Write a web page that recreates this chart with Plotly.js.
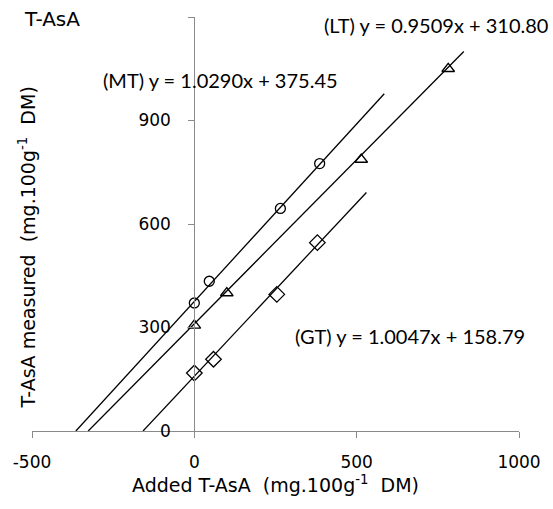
<!DOCTYPE html>
<html>
<head>
<meta charset="utf-8">
<script src="https://cdn.plot.ly/plotly-3.0.1.min.js"></script>
<style>html,body{margin:0;padding:0;background:#fff;}#chart{width:553px;height:509px;}</style>
</head>
<body>
<div id="chart"></div>
<script>
// Data
const mtX = [0, 46, 265, 386];
const mtY = [371, 434, 645, 775];
const ltX = [0, 100, 514, 782];
const ltY = [306, 400, 787, 1050];
const gtX = [0, 59, 254, 379];
const gtY = [168, 208, 396, 546];

// Trendline equations and their drawn x extents
const mtFit = [1.0290, 375.45];
const ltFit = [0.9509, 310.80];
const gtFit = [1.0047, 158.79];
const mtLineX = [-364.9, 585];
const ltLineX = [-326.8, 830];
const gtLineX = [-158.0, 530];

const xTicks = [-500, 0, 500, 1000];
const yTicks = [0, 300, 600, 900, 1200];
const yTickText = ['0', '300', '600', '900', ' '];

function fitY(fit, xs) { return xs.map(x => fit[0] * x + fit[1]); }

const lineStyle = {color: '#000', width: 1.3};
const mk = (sym, size) => ({symbol: sym, size: size, color: '#000', line: {color: '#000', width: 1.3}});

const traces = [
  {x: mtLineX, y: fitY(mtFit, mtLineX), mode: 'lines', line: lineStyle, hoverinfo: 'skip'},
  {x: ltLineX, y: fitY(ltFit, ltLineX), mode: 'lines', line: lineStyle, hoverinfo: 'skip'},
  {x: gtLineX, y: fitY(gtFit, gtLineX), mode: 'lines', line: lineStyle, hoverinfo: 'skip'},
  {x: mtX, y: mtY, mode: 'markers', marker: mk('circle-open', 10), name: 'MT', cliponaxis: false},
  {x: ltX, y: ltY, mode: 'markers', marker: mk('triangle-up-open', 11), name: 'LT', cliponaxis: false},
  {x: gtX, y: gtY, mode: 'markers', marker: mk('diamond-open', 12), name: 'GT', cliponaxis: false}
];

const tickFont = {family: 'DejaVu Sans, sans-serif', size: 17, color: '#000'};
const titleFont = {family: 'DejaVu Sans, sans-serif', size: 19, color: '#000'};
const eqFont = {family: 'Lato, sans-serif', size: 20, color: '#000'};

const layout = {
  width: 553, height: 509,
  margin: {l: 32, r: 34, t: 17, b: 78},
  paper_bgcolor: '#fff', plot_bgcolor: '#fff',
  showlegend: false,
  xaxis: {
    range: [-500, 1000], tickvals: xTicks, ticktext: xTicks.map(String),
    showgrid: false, zeroline: false, showline: true, linecolor: '#8a8a8a', linewidth: 1,
    ticks: 'outside', ticklen: 6, tickcolor: '#8a8a8a', tickfont: tickFont,
    ticklabelstandoff: 10,
    title: {text: 'Added T-AsA  (mg.100g<sup>-1</sup>  DM)', font: titleFont, standoff: 2}
  },
  yaxis: {
    range: [0, 1200], tickvals: yTicks, ticktext: yTickText,
    anchor: 'free', position: 1/3,
    showgrid: false, zeroline: false, showline: true, linecolor: '#8a8a8a', linewidth: 1,
    ticks: 'outside', ticklen: 6, tickcolor: '#8a8a8a', tickfont: tickFont,
    ticklabelstandoff: 14
  },
  annotations: [
    {text: 'T-AsA measured  (mg.100g<sup>-1</sup>  DM)', xref: 'paper', yref: 'paper',
     x: -0.0103, y: 0.443, textangle: -90, showarrow: false, font: titleFont, xanchor: 'center', yanchor: 'middle'},
    {text: 'T-AsA', xref: 'paper', yref: 'paper', x: 0.042, y: 0.9957, showarrow: false, font: {family: 'DejaVu Sans, sans-serif', size: 20, color: '#000'}, xanchor: 'center', yanchor: 'middle'},
    {text: '(MT) y = 1.0290x + 375.45', xref: 'paper', yref: 'paper', x: 0.1417, y: 0.848, showarrow: false, font: eqFont, xanchor: 'left', yanchor: 'middle'},
    {text: '(LT) y = 0.9509x + 310.80', xref: 'paper', yref: 'paper', x: 0.5955, y: 0.981, showarrow: false, font: eqFont, xanchor: 'left', yanchor: 'middle'},
    {text: '(GT) y = 1.0047x + 158.79', xref: 'paper', yref: 'paper', x: 0.536, y: 0.230, showarrow: false, font: eqFont, xanchor: 'left', yanchor: 'middle'}
  ]
};

Plotly.newPlot('chart', traces, layout, {displayModeBar: false, staticPlot: true});
</script>
</body>
</html>
